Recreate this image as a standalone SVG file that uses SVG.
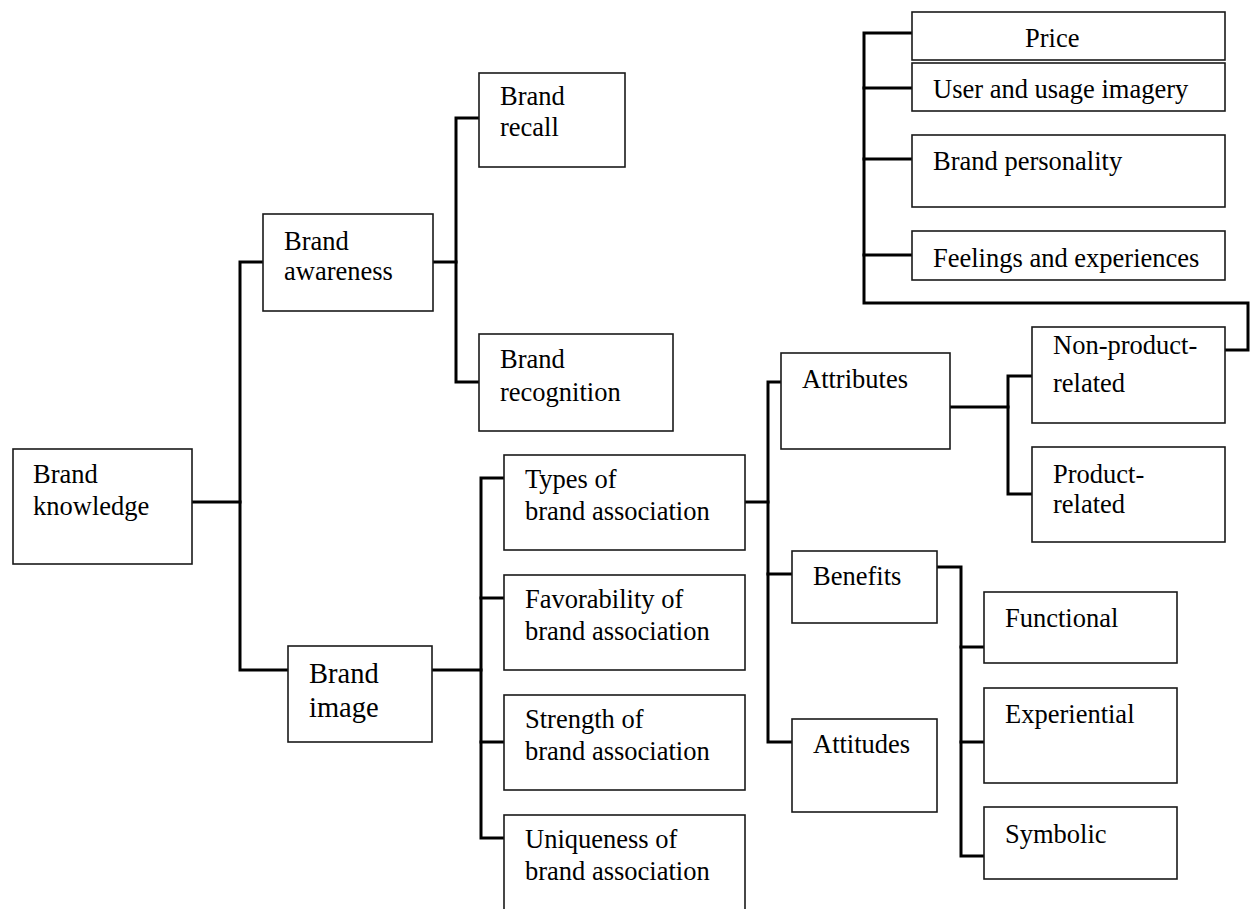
<svg xmlns="http://www.w3.org/2000/svg" width="1250" height="909" viewBox="0 0 1250 909">
  <style>
    .box { fill: #ffffff; stroke: #1a1a1a; stroke-width: 1.6; }
    .lbl { font-family: "Liberation Serif", "Times New Roman", serif; font-size: 26.5px; fill: #000000; }
    .big { font-size: 28.5px; }
    .wire { fill: none; stroke: #000000; stroke-width: 3; stroke-linejoin: miter; stroke-linecap: square; }
  </style>
  <rect width="1250" height="909" fill="#ffffff"/>

  <!-- connectors -->
  <g id="connectors" class="wire">
    <path d="M192,502 H240"/>
    <path d="M263,262 H240 V670 H288"/>
    <path d="M433,262 H456"/>
    <path d="M479,118 H456 V382 H479"/>
    <path d="M432,670 H481"/>
    <path d="M504,478 H481 V838 H504"/>
    <path d="M481,598 H504"/>
    <path d="M481,742 H504"/>
    <path d="M745,502 H768"/>
    <path d="M781,382 H768 V742 H792"/>
    <path d="M768,574 H792"/>
    <path d="M950,407 H1008"/>
    <path d="M1032,376 H1008 V494 H1032"/>
    <path d="M937,567 H961 V856 H984"/>
    <path d="M961,647 H984"/>
    <path d="M961,742 H984"/>
    <path d="M912,33 H864 V303 H1248 V350 H1226"/>
    <path d="M864,88 H912"/>
    <path d="M864,159 H912"/>
    <path d="M864,255 H912"/>
  </g>

  <g id="brand-knowledge">
    <rect class="box" x="13" y="449" width="179" height="115"/>
    <text class="lbl" x="33" y="483">Brand</text>
    <text class="lbl" x="33" y="515">knowledge</text>
  </g>
  <g id="brand-awareness">
    <rect class="box" x="263" y="214" width="170" height="97"/>
    <text class="lbl" x="284" y="250">Brand</text>
    <text class="lbl" x="284" y="280">awareness</text>
  </g>
  <g id="brand-recall">
    <rect class="box" x="479" y="73" width="146" height="94"/>
    <text class="lbl" x="500" y="105">Brand</text>
    <text class="lbl" x="500" y="136">recall</text>
  </g>
  <g id="brand-recognition">
    <rect class="box" x="479" y="334" width="194" height="97"/>
    <text class="lbl" x="500" y="368">Brand</text>
    <text class="lbl" x="500" y="401">recognition</text>
  </g>
  <g id="brand-image">
    <rect class="box" x="288" y="646" width="144" height="96"/>
    <text class="lbl big" x="309" y="683">Brand</text>
    <text class="lbl big" x="309" y="717">image</text>
  </g>

  <g id="types">
    <rect class="box" x="504" y="455" width="241" height="95"/>
    <text class="lbl" x="525" y="488">Types of</text>
    <text class="lbl" x="525" y="520">brand association</text>
  </g>
  <g id="favorability">
    <rect class="box" x="504" y="575" width="241" height="95"/>
    <text class="lbl" x="525" y="608">Favorability of</text>
    <text class="lbl" x="525" y="640">brand association</text>
  </g>
  <g id="strength">
    <rect class="box" x="504" y="695" width="241" height="95"/>
    <text class="lbl" x="525" y="728">Strength of</text>
    <text class="lbl" x="525" y="760">brand association</text>
  </g>
  <g id="uniqueness">
    <rect class="box" x="504" y="815" width="241" height="110"/>
    <text class="lbl" x="525" y="848">Uniqueness of</text>
    <text class="lbl" x="525" y="880">brand association</text>
  </g>

  <g id="attributes">
    <rect class="box" x="781" y="353" width="169" height="96"/>
    <text class="lbl" x="802" y="388">Attributes</text>
  </g>
  <g id="benefits">
    <rect class="box" x="792" y="551" width="145" height="72"/>
    <text class="lbl" x="813" y="585">Benefits</text>
  </g>
  <g id="attitudes">
    <rect class="box" x="792" y="719" width="145" height="93"/>
    <text class="lbl" x="813" y="753">Attitudes</text>
  </g>

  <g id="non-product-related">
    <rect class="box" x="1032" y="327" width="193" height="96"/>
    <text class="lbl" x="1053" y="354">Non-product-</text>
    <text class="lbl" x="1053" y="392">related</text>
  </g>
  <g id="product-related">
    <rect class="box" x="1032" y="447" width="193" height="95"/>
    <text class="lbl" x="1053" y="483">Product-</text>
    <text class="lbl" x="1053" y="513">related</text>
  </g>

  <g id="functional">
    <rect class="box" x="984" y="592" width="193" height="71"/>
    <text class="lbl" x="1005" y="627">Functional</text>
  </g>
  <g id="experiential">
    <rect class="box" x="984" y="688" width="193" height="95"/>
    <text class="lbl" x="1005" y="723">Experiential</text>
  </g>
  <g id="symbolic">
    <rect class="box" x="984" y="807" width="193" height="72"/>
    <text class="lbl" x="1005" y="843">Symbolic</text>
  </g>

  <g id="price">
    <rect class="box" x="912" y="12" width="313" height="48"/>
    <text class="lbl" x="1025" y="47">Price</text>
  </g>
  <g id="user-usage-imagery">
    <rect class="box" x="912" y="63" width="313" height="48"/>
    <text class="lbl" x="933" y="98">User and usage imagery</text>
  </g>
  <g id="brand-personality">
    <rect class="box" x="912" y="135" width="313" height="72"/>
    <text class="lbl" x="933" y="170">Brand personality</text>
  </g>
  <g id="feelings-experiences">
    <rect class="box" x="912" y="231" width="313" height="49"/>
    <text class="lbl" x="933" y="267">Feelings and experiences</text>
  </g>
</svg>
